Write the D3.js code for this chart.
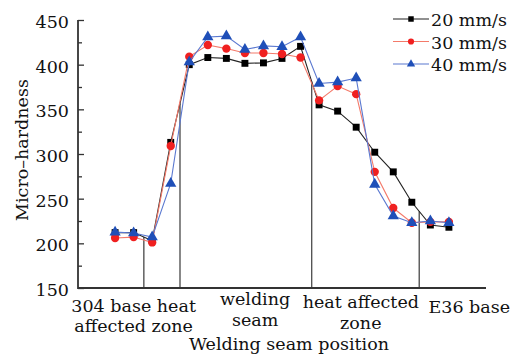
<!DOCTYPE html>
<html>
<head>
<meta charset="utf-8">
<script src="https://cdn.jsdelivr.net/npm/d3@7"></script>
<style>
  html, body { margin: 0; padding: 0; background: #fff; }
  svg { display: block; font-family: "DejaVu Serif", serif; }
</style>
</head>
<body>
<svg id="plot" width="512" height="357"></svg>
<script>
// measurement index along the weld (19 points, evenly spaced)
const positions = d3.range(19);
const hv20 = [212, 212, 203, 313, 400, 408, 407, 401.5, 402, 407, 420.5, 355, 348, 330, 302, 280, 246, 220.5, 218];
const hv30 = [206, 207, 201, 309, 409, 422, 418, 413, 413, 412, 408, 360, 376, 367, 280, 239.5, 223, 224, 224];
const hv40 = [212.5, 211.5, 207, 267, 403, 431, 432, 417, 421, 420, 431, 379, 380.5, 385, 266, 230.5, 223, 225, 223];
const seriesNames = ["20 mm/s", "30 mm/s", "40 mm/s"];
// zone boundaries (in index units) and zone labels
const boundaries = [1.55, 3.5, 10.6, 16.4];
const zoneLabels = [
  { at: 1.0, lines: ["304 base heat", "affected zone"], base: [312, 332] },
  { at: 7.55, lines: ["welding", "seam"], base: [305, 326] },
  { at: 13.25, lines: ["heat affected", "zone"], base: [308, 328.5] },
  { at: 19.1, lines: ["E36 base"], base: [313] }
];
const yTicks = [150, 200, 250, 300, 350, 400, 450];

const margin = { left: 78, right: 26, top: 20, bottom: 69 };
const W = 512, H = 357;
const fontSize = "17.5px";

const svg = d3.select("#plot");

const x = d3.scaleLinear().domain([-2, 20]).range([margin.left, W - margin.right]);
const y = d3.scaleLinear().domain([150, 450]).range([H - margin.bottom, margin.top]);

const styles = [
  { data: hv20, line: "#222", fill: "#000", shape: d3.symbolSquare, size: 48 },
  { data: hv30, line: "#f47a6a", fill: "#f02020", shape: d3.symbolCircle, size: 55 },
  { data: hv40, line: "#5a78d0", fill: "#1f4fb8", shape: d3.symbolTriangle, size: 55 }
];

// boundary drop lines up to the 20 mm/s curve
const interp = (arr, t) => {
  const i = Math.floor(t), f = t - i;
  return arr[i] + (arr[i + 1] - arr[i]) * f;
};
svg.append("g")
  .selectAll("line")
  .data(boundaries)
  .join("line")
  .attr("x1", (d) => x(d)).attr("x2", (d) => x(d))
  .attr("y1", y(150)).attr("y2", (d) => y(interp(hv20, d)))
  .style("stroke", "#555")
  .style("stroke-width", 1.4);

// y axis (ticks pointing inward)
const yAxis = svg.append("g")
  .attr("transform", `translate(${margin.left},0)`)
  .call(d3.axisRight(y).tickValues(d3.range(150, 451, 25)).tickSize(6).tickFormat(""));
yAxis.select(".domain").remove();
yAxis.selectAll(".tick line")
  .attr("x2", (d) => d % 50 === 0 ? 6 : 4)
  .style("stroke", "#333").style("stroke-width", 1.3);

svg.append("path")
  .attr("d", `M${x(-2)},${y(450)}V${y(150)}H${x(20)}`)
  .style("fill", "none")
  .style("stroke", "#333")
  .style("stroke-width", 1.8);

svg.append("g")
  .selectAll("text")
  .data(yTicks)
  .join("text")
  .attr("x", 69)
  .attr("y", (d) => y(d) + 2)
  .attr("dy", "0.35em")
  .attr("text-anchor", "end")
  .style("font-size", fontSize)
  .style("fill", "#111")
  .text((d) => d);

// series
const line = d3.line().x((d, i) => x(positions[i])).y((d) => y(d));
styles.forEach((s) => {
  svg.append("path")
    .attr("d", line(s.data))
    .style("fill", "none")
    .style("stroke", s.line)
    .style("stroke-width", 1.1);
  svg.append("g")
    .selectAll("path")
    .data(s.data)
    .join("path")
    .attr("transform", (d, i) => `translate(${x(positions[i])},${y(d)})`)
    .attr("d", d3.symbol().type(s.shape).size(s.size))
    .style("fill", s.fill);
});

// legend
const legend = svg.append("g");
seriesNames.forEach((name, i) => {
  const s = styles[i];
  const ly = 19 + i * 22.5;
  legend.append("line")
    .attr("x1", 393).attr("x2", 429).attr("y1", ly).attr("y2", ly)
    .style("stroke", s.line).style("stroke-width", 1.1);
  legend.append("path")
    .attr("transform", `translate(411,${ly})`)
    .attr("d", d3.symbol().type(s.shape).size(30))
    .style("fill", s.fill);
  legend.append("text")
    .attr("x", 431).attr("y", ly + 1).attr("dy", "0.35em")
    .style("font-size", fontSize).style("fill", "#111")
    .text(name);
});

// zone labels
zoneLabels.forEach((z) => {
  z.lines.forEach((t, j) => {
    svg.append("text")
      .attr("x", x(z.at))
      .attr("y", z.base[j])
      .attr("text-anchor", "middle")
      .style("font-size", fontSize).style("fill", "#111")
      .text(t);
  });
});

// axis titles
svg.append("text")
  .attr("x", 289).attr("y", 350)
  .attr("text-anchor", "middle")
  .style("font-size", fontSize).style("fill", "#111")
  .text("Welding seam position");

svg.append("text")
  .attr("transform", "translate(28,150) rotate(-90)")
  .attr("text-anchor", "middle")
  .style("font-size", fontSize).style("fill", "#111")
  .text("Micro–hardness");
</script>
</body>
</html>
